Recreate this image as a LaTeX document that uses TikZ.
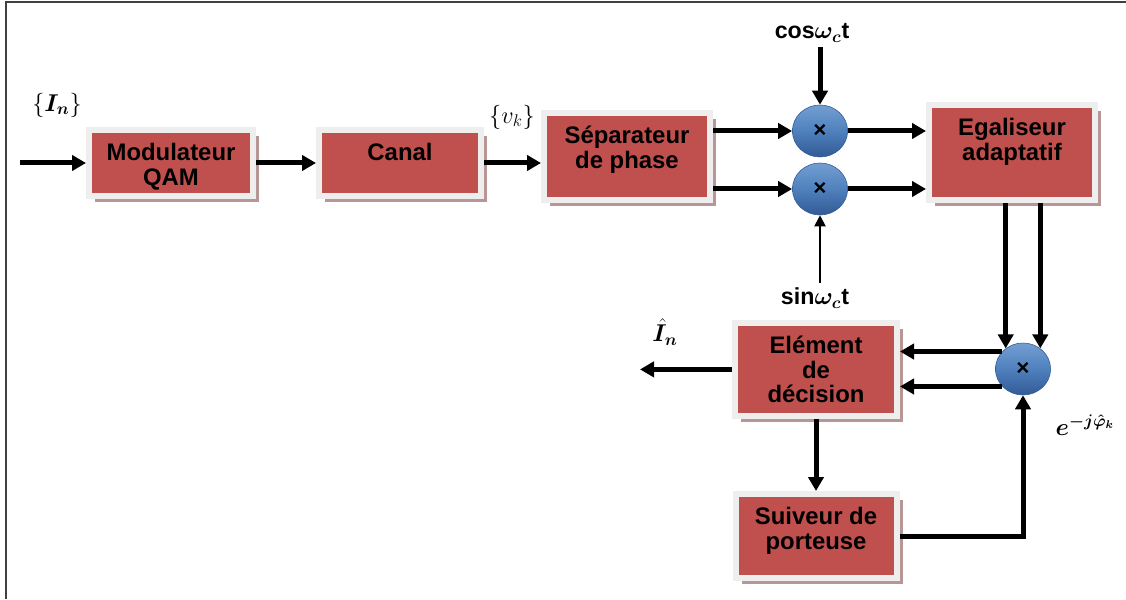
\documentclass[tikz,border=0pt]{standalone}
\usepackage{fontspec}
\setmainfont{Liberation Sans}
\usepackage{amsmath,bm}
\usetikzlibrary{positioning}
\usetikzlibrary{arrows.meta}
\usetikzlibrary{shapes.geometric}
\usetikzlibrary{shadows}
\definecolor{blocred}{RGB}{192,80,77}
\definecolor{blocrim}{RGB}{238,238,238}
\definecolor{blocshadow}{RGB}{185,150,150}
\definecolor{ballmid}{RGB}{79,129,189}
\definecolor{balltop}{RGB}{115,158,210}
\definecolor{ballbot}{RGB}{50,90,150}
\tikzset{bloc/.style = {draw=blocrim, line width=0.15cm, fill=blocred,
                        drop shadow={shadow xshift=0.15cm, shadow yshift=-0.15cm,
                                     fill=blocshadow, opacity=1}}}
\tikzset{txt/.style = {anchor=north, yshift=-0.4cm, inner sep=0pt, align=center,
                       font=\fontsize{17}{17.5}\selectfont\bfseries}}
\tikzset{mixer/.style = {ellipse, minimum width=1.38cm, minimum height=1.3cm, inner sep=0pt,
                         top color=balltop, bottom color=ballbot, middle color=ballmid,
                         draw=ballbot, thin, font=\fontsize{16}{16}\selectfont\bfseries}}
\tikzset{arr/.style = {line width=0.125cm, -{Triangle[length=0.35cm,width=0.38cm]}}}
\tikzset{thinarr/.style = {line width=0.05cm, -{Triangle[length=0.28cm,width=0.28cm]}}}
\tikzset{lbl/.style = {font=\fontsize{16.5}{18}\selectfont}}

\begin{document}
\begin{tikzpicture}
  \useasboundingbox (0,0) rectangle (28.15,14.975);
  \draw[line width=0.05cm, black!75] (0.15,0) |- (28.15,14.925);

  % top row
  \node[bloc, minimum width=4.1cm, minimum height=1.65cm,
        label={[txt]north:Modulateur\\QAM}] (modu) at (4.275,10.9) {};
  \node[bloc, minimum width=4.05cm, minimum height=1.65cm,
        label={[txt]north:Canal}] (canal) at (10.0,10.9) {};
  \node[bloc, minimum width=4.15cm, minimum height=2.175cm,
        label={[txt]north:Séparateur\\de phase}] (sep) at (15.675,11.06) {};
  \node[mixer] (m1) at (20.5,11.7) {×};
  \node[mixer] (m2) at (20.5,10.25) {×};
  \node[bloc, minimum width=4.15cm, minimum height=2.375cm,
        label={[txt]north:Egaliseur\\adaptatif}] (ega) at (25.3,11.16) {};

  % bottom part
  \node[mixer] (m3) at (25.575,5.75) {×};
  \node[bloc, minimum width=4.05cm, minimum height=2.325cm,
        label={[txt]north:Elément\\de\\décision}] (dec) at (20.4,5.74) {};
  \node[bloc, minimum width=4.025cm, minimum height=2.1cm,
        label={[txt]north:Suiveur de\\porteuse}] (suiv) at (20.4,1.575) {};

  % labels
  \node[lbl] (In) at (1.425,12.35) {$\{\bm{I_n}\}$};
  \node[lbl] (vk) at (12.8,12.05) {$\{v_k\}$};
  \node[lbl] (cos) at (20.3,14.15) {\bfseries cos$\bm{\omega_c}$t};
  \node[lbl] (sin) at (20.375,7.525) {\bfseries sin$\bm{\omega_c}$t};
  \node[lbl] (ihat) at (16.625,6.675) {$\bm{\hat{I}_n}$};
  \node[lbl] (ephi) at (27.125,4.35) {$\bm{e^{-j\hat{\varphi}_k}}$};
  \coordinate (in) at (0.5,10.9);
  \coordinate (out) at (16.0,5.74);

  % connectors
  \draw[arr] (in) -- (modu);
  \draw[arr] (modu) -- (canal);
  \draw[arr] (canal.east) -- (canal.east -| sep.west);
  \draw[arr] (m1 -| sep.east) -- (m1);
  \draw[arr] (m2 -| sep.east) -- (m2);
  \draw[arr] (cos.south -| m1) -- (m1);
  \draw[thinarr] (sin.north -| m2) -- (m2);
  \draw[arr] (m1) -- (m1 -| ega.west);
  \draw[arr] (m2) -- (m2 -| ega.west);
  \draw[arr] (ega.south -| m3.130) -- (m3.130);
  \draw[arr] (ega.south -| m3.50) -- (m3.50);
  \draw[arr] (m3.140) -- (m3.140 -| dec.east);
  \draw[arr] (m3.220) -- (m3.220 -| dec.east);
  \draw[arr] (dec) -- (out);
  \draw[arr] (dec) -- (suiv);
  \draw[arr] (suiv) -| (m3);
\end{tikzpicture}
\end{document}
